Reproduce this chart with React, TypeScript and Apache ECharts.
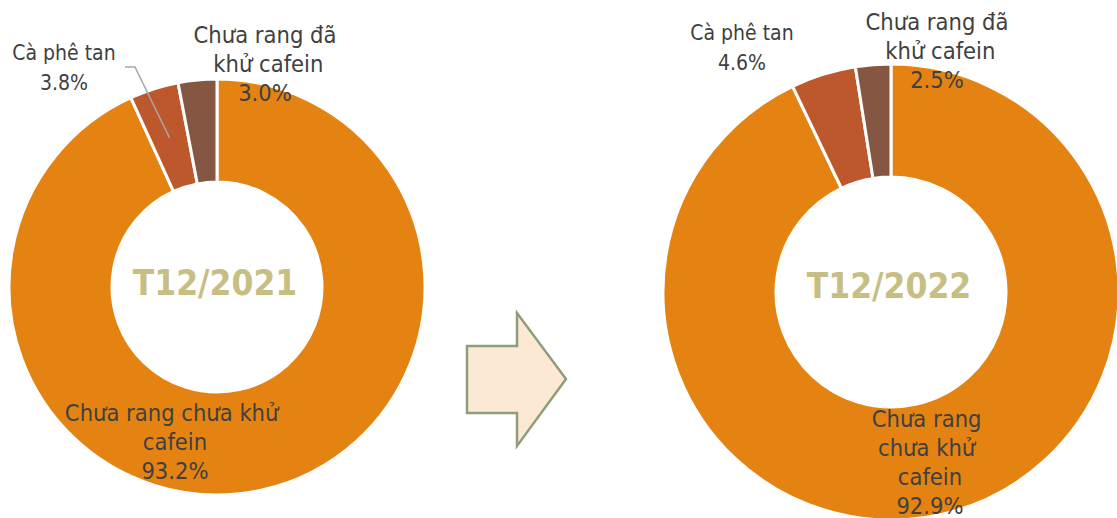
import React, { useEffect, useRef } from "react";
import * as echarts from "echarts";

const categories = ["Chưa rang chưa khử cafein", "Cà phê tan", "Chưa rang đã khử cafein"];
const values2021 = [93.2, 3.8, 3.0];
const values2022 = [92.9, 4.6, 2.5];
const periodLabels = ["T12/2021", "T12/2022"];
const sliceColors = ["#E48312", "#BD582C", "#855642"];

const FONT = "'DejaVu Sans Condensed', 'DejaVu Sans', sans-serif";
const TEXT = "#404040";

export default function App() {
  const ref = useRef<HTMLDivElement>(null);
  useEffect(() => {
    if (!ref.current) return;
    const chart = echarts.init(ref.current, undefined, { renderer: "svg" });

    const centers = [
      [217, 287],
      [891, 292],
    ];
    const radii = [
      [105, 208],
      [115, 228],
    ];

    // label placement per series / dataIndex (centre of text block) and wrap width
    const labelPos = [
      [
        { x: 175, y: 442, w: 270 },
        { x: 64, y: 68, w: 140 },
        { x: 265, y: 64, w: 180 },
      ],
      [
        { x: 930, y: 462, w: 128 },
        { x: 742, y: 48, w: 140 },
        { x: 937, y: 51, w: 180 },
      ],
    ];

    const makeData = (vals: number[], si: number) =>
      vals.map((v, i) => ({
        value: v,
        name: categories[i],
        itemStyle: { color: sliceColors[i] },
        label: {
          width: labelPos[si][i].w,
          fontSize: i === 1 ? 21 : 23.5,
          lineHeight: i === 1 ? 30 : 29,
        },
      }));

    const mkSeries = (vals: number[], si: number) => ({
      type: "pie",
      center: centers[si],
      radius: radii[si],
      startAngle: 90,
      clockwise: true,
      avoidLabelOverlap: false,
      itemStyle: { borderColor: "#ffffff", borderWidth: 3 },
      label: {
        show: true,
        position: "outside",
        color: TEXT,
        fontFamily: FONT,
        align: "center",
        overflow: "break",
        formatter: (p: any) => `${p.name}\n${p.value.toFixed(1)}%`,
      },
      labelLine: { show: false },
      labelLayout: (params: any) => {
        const pos = labelPos[si][params.dataIndex];
        return { x: pos.x, y: pos.y, align: "center", verticalAlign: "middle" };
      },
      emphasis: { disabled: true },
      data: makeData(vals, si),
    });

    // leader line for "Cà phê tan" (2021): ends at the middle of its slice
    const total = values2021.reduce((a, b) => a + b, 0);
    const midFrac = (values2021[0] + values2021[1] / 2) / total;
    const ang = midFrac * 2 * Math.PI;
    const rMid = (radii[0][0] + radii[0][1]) / 2;
    const endPt = [
      centers[0][0] + rMid * Math.sin(ang),
      centers[0][1] - rMid * Math.cos(ang),
    ];

    chart.setOption({
      animation: false,
      backgroundColor: "#ffffff",
      series: [mkSeries(values2021, 0), mkSeries(values2022, 1)],
      graphic: [
        {
          type: "polyline",
          shape: { points: [[125, 67], [135, 67], endPt] },
          style: { stroke: "#A6A6A6", lineWidth: 1.5, fill: "none" },
          z: 10,
        },
        {
          type: "text",
          x: 215,
          y: 283,
          style: {
            text: periodLabels[0],
            fill: "#C6BE82",
            font: `bold 35px ${FONT}`,
            textAlign: "center",
            textVerticalAlign: "middle",
          },
        },
        {
          type: "text",
          x: 889,
          y: 286,
          style: {
            text: periodLabels[1],
            fill: "#C6BE82",
            font: `bold 35px ${FONT}`,
            textAlign: "center",
            textVerticalAlign: "middle",
          },
        },
        {
          type: "polygon",
          shape: {
            points: [
              [467, 346],
              [517, 346],
              [517, 313],
              [566, 379],
              [517, 446],
              [517, 413],
              [467, 413],
            ],
          },
          style: { fill: "#FCE9D3", stroke: "#8F9E7A", lineWidth: 2.5 },
        },
      ],
    });
    return () => chart.dispose();
  }, []);
  return (
    <div
      ref={ref}
      style={{ position: "fixed", left: 0, top: 0, width: 1117, height: 518 }}
    />
  );
}
